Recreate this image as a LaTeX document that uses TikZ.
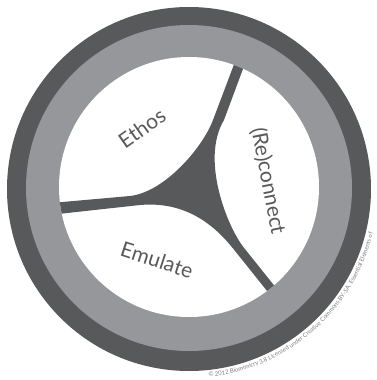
\documentclass[tikz,border=0pt]{standalone}
\usepackage{fontspec}
\setmainfont{Lato}
\usepackage{xcolor}
\usetikzlibrary{decorations.text}

\definecolor{armgrey}{RGB}{88,89,91}
\definecolor{ringgrey}{RGB}{150,151,154}
\definecolor{notegrey}{RGB}{125,125,128}

\begin{document}
\begin{tikzpicture}[x=1pt, y=-1pt,
        partname/.style={text=armgrey, font=\fontsize{21}{24}\selectfont}]
    \useasboundingbox (0,0) rectangle (376,380);

    % Draw rings
    \fill[armgrey] (189,189) circle (182);
    \fill[ringgrey] (189,188) circle (163);
    \fill[white] (189,187) circle (130);

    % Draw three-way junction
    \begin{scope}
        \clip (189,187) circle (130);
        \fill[armgrey] (244,38) -- (213,120)
            .. controls (203,147) and (165,192) .. (130,196)
            -- (40,204) -- (40,216) -- (140,205)
            .. controls (195,200) and (224,237) .. (236.5,252.8)
            -- (286.5,315.3) -- (293.5,309.7) -- (243.5,247.2)
            .. controls (228,227.7) and (200,160) .. (224,120)
            -- (253,42) -- cycle;
    \end{scope}

    % Name the three parts
    \node[partname, rotate=35] (ethos) at (142,128) {Ethos};
    \node[partname, rotate=-79] (reconnect) at (268,181) {(Re)connect};
    \node[partname, rotate=-18] (emulate) at (157,260) {Emulate};

    % Credit line along the rim
    \path[decorate, decoration={text along path, text align=left,
        text={|\fontsize{6}{7}\selectfont\color{notegrey}|© 2012 Biomimicry 3.8  Licensed under Creative Commons BY-SA. Essential Elements of}}]
        (189,189) ++(-84:189pt) arc[start angle=-84, end angle=0, radius=189pt];
\end{tikzpicture}
\end{document}
